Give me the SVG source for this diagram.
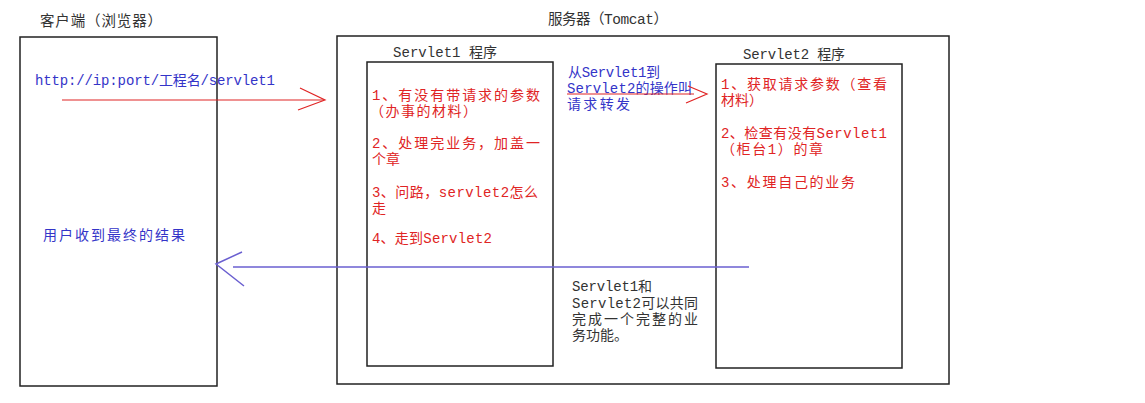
<svg xmlns="http://www.w3.org/2000/svg" width="1145" height="403" viewBox="0 0 1145 403">
<style>
text{font-family:"Liberation Mono","Noto Sans CJK SC",monospace;font-size:14px;}
.title{fill:#333;font-size:14.5px;}
.red{fill:#e02424;}
.blue{fill:#3434c8;}
.blk{fill:#333;}
.box{fill:#fff;stroke:#222;stroke-width:1.5;}
.ar{fill:none;stroke:#e02424;stroke-width:1.2;}
.ab{fill:none;stroke:#6a5fd0;stroke-width:1.5;}
</style>
<rect width="1145" height="403" fill="#fff"/>
<g id="client">
<text class="title" x="40" y="26" textLength="122" lengthAdjust="spacing">客户端（浏览器）</text>
<rect class="box" x="20" y="37" width="197" height="349"/>
<text class="blue" x="35" y="85" textLength="240" lengthAdjust="spacing">http://ip:port/工程名/servlet1</text>
<text class="blue" x="43" y="240" textLength="142" lengthAdjust="spacing">用户收到最终的结果</text>
</g>
<g id="server">
<text class="title" x="548" y="24" textLength="120" lengthAdjust="spacing">服务器（Tomcat）</text>
<rect class="box" x="337" y="36" width="612" height="348"/>
<text class="blue" x="568" y="77" textLength="92" lengthAdjust="spacing">从Servlet1到</text>
<text class="blue" x="567" y="93" textLength="125" lengthAdjust="spacing">Servlet2的操作叫</text>
<text class="blue" x="567" y="109" textLength="63" lengthAdjust="spacing">请求转发</text>
<text class="blk" x="572" y="291" textLength="80" lengthAdjust="spacing">Servlet1和</text>
<text class="blk" x="572" y="308" textLength="126" lengthAdjust="spacing">Servlet2可以共同</text>
<text class="blk" x="572" y="324" textLength="126" lengthAdjust="spacing">完成一个完整的业</text>
<text class="blk" x="572" y="340" textLength="56" lengthAdjust="spacing">务功能。</text>
</g>
<g id="servlet1">
<text class="blk" x="393" y="57" textLength="104" lengthAdjust="spacing">Servlet1 程序</text>
<rect class="box" x="367" y="62" width="186" height="304"/>
<text class="red" x="372" y="100" textLength="168" lengthAdjust="spacing">1、有没有带请求的参数</text>
<text class="red" x="370" y="116" textLength="107" lengthAdjust="spacing">（办事的材料）</text>
<text class="red" x="372" y="148" textLength="168" lengthAdjust="spacing">2、处理完业务，加盖一</text>
<text class="red" x="372" y="164">个章</text>
<text class="red" x="372" y="197" textLength="166" lengthAdjust="spacing">3、问路，servlet2怎么</text>
<text class="red" x="372" y="213">走</text>
<text class="red" x="372" y="243" textLength="120" lengthAdjust="spacing">4、走到Servlet2</text>
</g>
<g id="servlet2">
<text class="blk" x="743" y="59" textLength="102" lengthAdjust="spacing">Servlet2 程序</text>
<rect class="box" x="716" y="64" width="186" height="304"/>
<text class="red" x="721" y="89" textLength="166" lengthAdjust="spacing">1、获取请求参数（查看</text>
<text class="red" x="721" y="105">材料）</text>
<text class="red" x="721" y="138" textLength="166" lengthAdjust="spacing">2、检查有没有Servlet1</text>
<text class="red" x="721" y="154" textLength="102" lengthAdjust="spacing">（柜台1）的章</text>
<text class="red" x="721" y="187" textLength="134" lengthAdjust="spacing">3、处理自己的业务</text>
</g>
<g id="connectors">
<line class="ar" x1="62" y1="100" x2="324" y2="100"/>
<polyline class="ar" points="300,88 325,100 298,110"/>
<line class="ar" x1="567" y1="94" x2="694" y2="94"/>
<polyline class="ar" points="688,86 707,94 686,103"/>
<line class="ab" x1="233" y1="267" x2="749" y2="267"/>
<polyline class="ab" points="242,252 216,264 244,286"/>
</g>
</svg>
